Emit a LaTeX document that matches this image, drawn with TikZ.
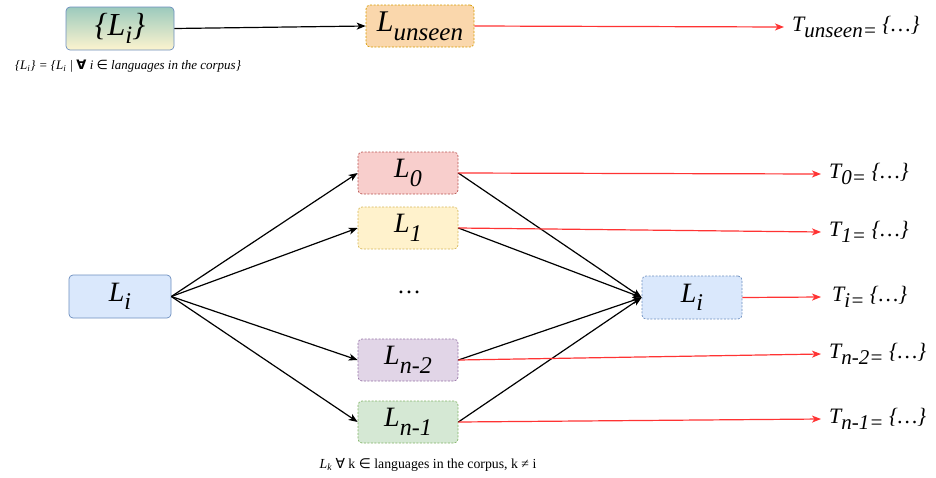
\documentclass[tikz,border=0pt]{standalone}
\usepackage{fontspec}
\setmainfont{Liberation Serif}
\newfontfamily\symfont{DejaVu Sans}
\usetikzlibrary{arrows.meta}

\definecolor{bluefill}{HTML}{DAE8FC}
\definecolor{blueline}{HTML}{6C8EBF}
\definecolor{orangefill}{HTML}{FAD7AC}
\definecolor{orangeline}{HTML}{D79B00}
\definecolor{redfill}{HTML}{F8CECC}
\definecolor{redline}{HTML}{B85450}
\definecolor{yellowfill}{HTML}{FFF2CC}
\definecolor{yellowline}{HTML}{D6B656}
\definecolor{purplefill}{HTML}{E1D5E7}
\definecolor{purpleline}{HTML}{9673A6}
\definecolor{greenfill}{HTML}{D5E8D4}
\definecolor{greenline}{HTML}{82B366}
\definecolor{tealtop}{HTML}{9CCABD}
\definecolor{creambottom}{HTML}{FDF4CF}
\definecolor{outred}{HTML}{FF3333}

% big italic L with a subscript: [L size]{subscript}{subscript size}
\newcommand{\Lbig}[3][28]{{\fontsize{#1}{#1}\selectfont\itshape L\raisebox{-0.3em}{\fontsize{#3}{#3}\selectfont #2}}}
% T label with subscript and set
\newcommand{\Tset}[1]{{\fontsize{22}{22}\selectfont\itshape T\raisebox{-0.3em}{\fontsize{21}{21}\selectfont #1=} \{\ldots\}}}

\tikzset{
  langbox/.style={rounded corners=4pt, minimum width=100pt, minimum height=42pt, inner sep=0pt, line width=0.7pt},
  dashbox/.style={langbox, dash pattern=on 2pt off 1.5pt},
  tlabel/.style={anchor=west, inner xsep=8pt, inner ysep=1pt},
  blackarrow/.style={line width=1.2pt, -{Stealth[length=9pt,width=7pt,inset=2.5pt]}},
  redarrow/.style={draw=outred, line width=1.2pt, -{Stealth[length=9pt,width=7pt,inset=2.5pt]}},
}

\begin{document}
\begin{tikzpicture}[x=1pt,y=-1pt]
\useasboundingbox (0,0) rectangle (936,477);

% top row
\node[langbox, minimum width=108pt, minimum height=43pt, draw=blueline, top color=tealtop, bottom color=creambottom] (set) at (120,28.5)
  {\fontsize{32}{32}\selectfont\itshape \{L\raisebox{-0.25em}{\fontsize{25}{25}\selectfont i}\}};
\node (setcap) at (128,66) {\fontsize{13}{14}\selectfont\itshape \{L\textsubscript{i}\} = \{L\textsubscript{i} | {\symfont\bfseries ∀} i {\symfont ∈} languages in the corpus\}};
\node[dashbox, minimum width=108pt, draw=orangeline, fill=orangefill] (unseen) at (420,26) {\Lbig[30]{unseen}{25}};
\node[tlabel] (tunseen) at (784,27) {\Tset{unseen}};

% fan-out languages
\node[langbox, minimum width=102pt, minimum height=43pt, draw=blueline, fill=bluefill] (lileft) at (120,296.5) {\Lbig{i}{24}};
\node[dashbox, draw=redline, fill=redfill] (l0) at (408,173) {\Lbig{0}{24}};
\node[dashbox, draw=yellowline, fill=yellowfill] (l1) at (408,228) {\Lbig{1}{24}};
\node (dots) at (409,292) {\fontsize{24}{24}\selectfont \ldots};
\node[dashbox, draw=purpleline, fill=purplefill] (ln2) at (408,360) {\Lbig{n-2}{24}};
\node[dashbox, draw=greenline, fill=greenfill] (ln1) at (408,422) {\Lbig{n-1}{24}};
\node (kcap) at (428,465) {\fontsize{13.8}{15}\selectfont \textit{L\textsubscript{k}} {\symfont ∀} k {\symfont ∈} languages in the corpus, k ≠ i};
\node[dashbox, minimum height=43pt, draw=blueline, fill=bluefill] (liright) at (692,297.5) {\Lbig{i}{24}};

% output sets
\node[tlabel] (t0) at (821,174) {\Tset{0}};
\node[tlabel] (t1) at (821,232) {\Tset{1}};
\node[tlabel, inner xsep=11pt] (ti) at (821,297) {\Tset{i}};
\node[tlabel] (tn2) at (821,354) {\Tset{n-2}};
\node[tlabel] (tn1) at (821,419) {\Tset{n-1}};

% connectors
\draw[blackarrow] (set.east) -- (unseen.west);
\draw[redarrow] (unseen.east) -- (tunseen.west);

\foreach \n in {l0,l1,ln2,ln1} {
  \draw[blackarrow] (lileft.east) -- (\n.west);
  \draw[blackarrow] (\n.east) -- (liright.west);
}
\draw[redarrow] (l0.east) -- (t0.west);
\draw[redarrow] (l1.east) -- (t1.west);
\draw[redarrow] (liright.east) -- (ti.west);
\draw[redarrow] (ln2.east) -- (tn2.west);
\draw[redarrow] (ln1.east) -- (tn1.west);
\end{tikzpicture}
\end{document}
